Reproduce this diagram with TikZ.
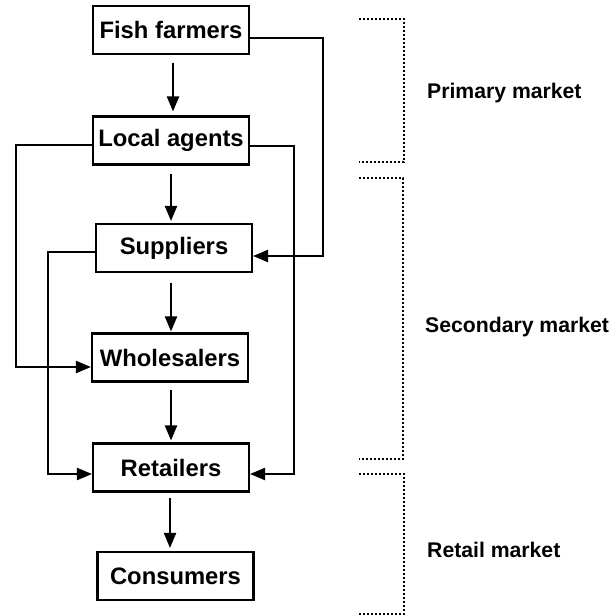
\documentclass[tikz,border=0pt]{standalone}
\usepackage{fontspec}
\setmainfont{Liberation Sans}
\usetikzlibrary{arrows.meta,calc}
\begin{document}
\begin{tikzpicture}[x=1pt,y=-1pt,
  box/.style={draw, line width=2.1pt, minimum width=156pt, minimum height=48pt, inner sep=0pt,
    font=\bfseries\fontsize{23.8}{28}\selectfont},
  lab/.style={anchor=west, inner sep=0pt, font=\bfseries\fontsize{21.2}{25}\selectfont},
  arr/.style={line width=2.2pt, -{Triangle[length=15pt,width=12pt]}},
  brk/.style={line width=2.6pt, dash pattern=on 2.2pt off 1.8pt}]
\useasboundingbox (0,0) rectangle (611,616);
\node[box] (fish) at (171,30) {Fish farmers};
\node[box] (local) at (171,140.5) {Local agents};
\node[box] (sup) at (174,248) {Suppliers};
\node[box] (whole) at (170,357.5) {Wholesalers};
\node[box] (ret) at (171,467.5) {Retailers};
\node[box] (cons) at (175.5,576) {Consumers};
% vertical arrows
\draw[arr, shorten <=8pt, shorten >=4pt] ([xshift=2pt]fish.south) -- ([xshift=2pt]fish.south |- local.north);
\draw[arr, shorten <=8pt, shorten >=2pt] (local.south) -- (local.south |- sup.north);
\draw[arr, shorten <=10pt, shorten >=1pt] (local.south |- sup.south) -- (local.south |- whole.north);
\draw[arr, shorten <=7pt, shorten >=2pt] (local.south |- whole.south) -- (local.south |- ret.north);
\draw[arr, shorten <=5pt, shorten >=3pt] ([xshift=-1pt]ret.south) -- ([xshift=-1pt]ret.south |- cons.north);
% side connectors
\coordinate (c1) at (323,0);
\coordinate (c2) at (16,0);
\coordinate (c3) at (294,0);
\coordinate (c4) at (48,0);
\draw[arr] ([yshift=-8pt]fish.east) -| ($(c1 |- sup.east)+(0,8)$) -- ([yshift=-8pt]sup.east);
\draw[arr] ([yshift=-4.5pt]local.west) -| ($(c2 |- whole.west)+(0,9.5)$) -- ([yshift=-9.5pt]whole.west);
\draw[arr] ([yshift=-5.5pt]local.east) -| ($(c3 |- ret.east)+(0,6.5)$) -- ([yshift=-6.5pt]ret.east);
\draw[arr] ([yshift=-4pt]sup.west) -| ($(c4 |- ret.west)+(0,6.5)$) -- ([yshift=-6.5pt]ret.west);
% brackets
\draw[brk] (359,19) -- (404,19) -- (404,162) -- (359,162);
\draw[brk] (359,178) -- (403,178) -- (403,459) -- (359,459);
\draw[brk] (359,474) -- (404,474) -- (404,614) -- (359,614);
\node[lab] (pm) at (427,93) {Primary market};
\node[lab] (sm) at (425,327) {Secondary market};
\node[lab] (rm) at (427,550) {Retail market};
\end{tikzpicture}
\end{document}
